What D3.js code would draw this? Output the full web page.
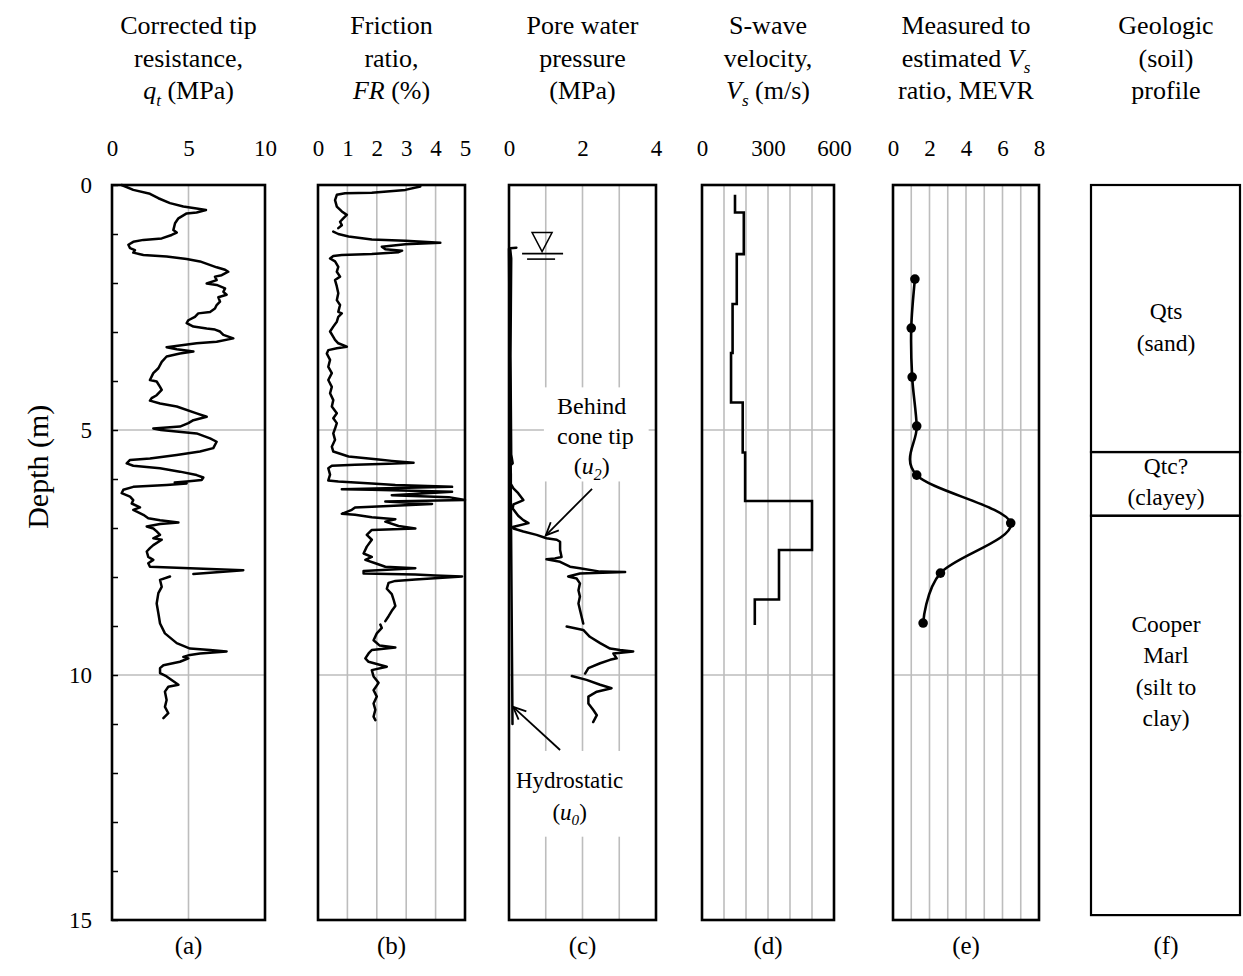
<!DOCTYPE html>
<html>
<head>
<meta charset="utf-8">
<script src="https://cdn.jsdelivr.net/npm/d3@7"></script>
<style>
  body { margin: 0; background: #fff; }
  svg { display: block; }
  text { font-family: "Liberation Serif", "Times New Roman", serif; fill: #000; }
</style>
</head>
<body>
<svg id="chart" width="1243" height="976"></svg>
<script>
// ---------------- data (depth in m, value) ----------------
// Corrected tip resistance qt (MPa)
const qtProfile = [[0,0.63],[0.10,1.39],[0.18,2.48],[0.27,3.03],[0.37,3.79],[0.44,4.66],[0.48,5.53],[0.51,6.14],[0.56,5.53],[0.58,4.88],[0.68,4.34],[0.78,4.12],[0.92,4.01],[0.97,4.23],[1.02,3.90],[1.09,3.25],[1.12,2.05],[1.16,1.39],[1.22,1.07],[1.29,1.18],[1.33,1.50],[1.38,1.39],[1.43,2.05],[1.46,3.57],[1.51,4.88],[1.56,5.75],[1.68,6.84],[1.73,7.39],[1.77,7.60],[1.84,7.17],[1.87,6.73],[1.94,6.84],[2.01,6.19],[2.04,6.84],[2.11,7.39],[2.18,7.28],[2.24,7.49],[2.29,6.95],[2.38,7.06],[2.45,6.84],[2.52,6.73],[2.59,6.41],[2.62,5.64],[2.69,5.42],[2.76,4.99],[2.82,4.88],[2.89,5.32],[2.93,6.19],[2.95,6.73],[2.99,7.06],[3.06,7.28],[3.13,7.93],[3.20,6.84],[3.23,5.53],[3.27,4.55],[3.31,3.57],[3.35,4.23],[3.40,5.32],[3.44,4.44],[3.50,3.57],[3.61,3.25],[3.74,3.03],[3.84,2.70],[3.98,2.48],[4.01,2.92],[4.12,3.14],[4.18,3.25],[4.29,2.92],[4.35,2.59],[4.40,2.48],[4.46,3.14],[4.52,4.23],[4.66,5.53],[4.73,6.19],[4.80,5.32],[4.86,4.99],[4.93,4.44],[4.97,2.70],[5.00,3.20],[5.07,5.53],[5.17,6.41],[5.24,6.84],[5.37,6.62],[5.44,5.75],[5.51,4.23],[5.58,2.48],[5.61,1.18],[5.68,0.96],[5.73,1.39],[5.78,3.14],[5.85,4.44],[5.92,5.53],[5.97,5.97],[6.02,5.86],[6.05,4.88],[6.07,4.10],[6.09,4.88],[6.12,3.57],[6.16,1.39],[6.22,0.74],[6.29,0.63],[6.36,1.18],[6.43,1.39],[6.50,1.29],[6.58,1.83],[6.63,1.39],[6.73,2.05],[6.80,2.37],[6.84,3.14],[6.89,4.34],[6.92,3.14],[6.97,2.27],[7.01,2.70],[7.07,2.92],[7.14,3.14],[7.21,2.70],[7.24,3.25],[7.35,2.70],[7.41,2.48],[7.48,2.27],[7.59,2.37],[7.65,2.70],[7.72,2.37],[7.79,2.48],[7.82,5.10],[7.86,8.58],[7.94,5.32],null,[7.99,3.79],[8.06,3.14],[8.20,3.25],[8.33,3.03],[8.54,2.92],[8.74,3.03],[8.95,3.14],[9.15,3.46],[9.35,4.23],[9.46,5.10],[9.49,6.41],[9.52,7.49],[9.56,5.75],[9.59,5.10],[9.63,4.66],[9.66,4.99],[9.73,4.44],[9.80,3.36],[9.86,3.14],[9.96,3.14],[10.03,3.57],[10.20,4.34],[10.24,3.68],[10.34,3.46],[10.51,3.57],[10.65,3.46],[10.78,3.68],[10.88,3.36]];

// Friction ratio FR (%)
const frProfile = [[0.03,3.48],[0.10,2.97],[0.16,1.83],[0.17,0.92],[0.20,0.64],[0.31,0.58],[0.44,0.64],[0.54,0.81],[0.61,0.98],[0.68,0.86],[0.75,0.75],[0.82,0.81],[0.88,0.69],null,[0.95,0.52],[1.00,0.69],[1.05,1.04],[1.11,1.83],[1.14,2.97],[1.18,4.16],[1.21,2.97],[1.26,2.17],[1.31,2.29],[1.34,2.86],[1.37,2.74],[1.41,1.83],[1.43,0.81],[1.45,0.52],[1.50,0.41],[1.56,0.58],[1.67,0.69],[1.77,0.64],[1.87,0.75],[1.94,0.58],[2.07,0.64],[2.21,0.69],[2.35,0.64],[2.45,0.75],[2.59,0.69],[2.62,0.81],[2.69,0.69],[2.79,0.64],[2.89,0.52],[2.99,0.41],[3.10,0.52],[3.16,0.58],[3.23,0.69],[3.30,0.98],[3.33,0.64],[3.37,0.35],[3.44,0.30],[3.57,0.41],[3.71,0.35],[3.84,0.47],[3.98,0.35],[4.12,0.47],[4.25,0.41],[4.39,0.52],[4.52,0.47],[4.66,0.64],[4.76,0.52],[4.86,0.64],[4.97,0.58],[5.07,0.52],[5.20,0.58],[5.34,0.47],[5.44,0.52],[5.54,1.04],[5.60,2.06],[5.63,2.51],[5.67,3.25],[5.69,2.40],[5.71,1.26],[5.73,0.47],[5.78,0.35],[5.91,0.41],[6.03,0.35],[6.05,0.69],[6.09,1.83],[6.12,2.63],[6.16,4.56],[6.21,0.81],[6.22,1.83],[6.26,4.56],[6.33,2.51],[6.37,4.45],[6.43,5.00],[6.46,2.29],[6.51,3.88],[6.55,2.40],[6.58,1.26],[6.63,1.15],[6.71,0.81],[6.73,1.26],[6.78,1.83],[6.82,2.63],[6.87,2.29],[6.96,2.74],[7.01,3.31],[7.04,1.83],[7.14,1.66],[7.24,1.83],[7.38,1.66],[7.52,1.55],[7.59,1.83],[7.65,1.61],[7.72,1.95],[7.79,2.29],[7.82,3.31],[7.88,1.55],[7.93,1.55],[7.95,3.31],[7.97,3.99],[7.99,4.90],[8.05,3.31],[8.08,2.63],[8.12,2.40],[8.24,2.34],[8.35,2.51],[8.46,2.57],[8.59,2.63],[8.69,2.51],[8.80,2.40],[8.90,2.29],null,[8.97,2.12],[9.04,2.17],[9.15,2.00],[9.29,1.89],[9.40,2.10],[9.44,2.63],[9.49,1.83],[9.56,1.72],[9.66,1.61],[9.73,1.72],[9.83,2.34],[9.90,1.83],[10.03,1.89],[10.16,2.06],[10.31,1.89],[10.44,2.00],[10.58,1.89],[10.71,1.95],[10.85,1.89],[10.92,1.95]];

// Pore water pressure behind cone tip u2 (MPa)
const u2Profile = [[1.28,0.20],[1.29,0.03],[1.50,0.06],[2.50,0.05],[3.50,0.04],[4.50,0.05],[5.50,0.06],[5.68,0.10],[5.72,0.04],[5.90,0.05],[6.10,0.05],[6.19,0.12],[6.29,0.25],[6.43,0.39],[6.46,0.30],[6.52,0.12],[6.60,0.10],[6.75,0.25],[6.84,0.39],[6.90,0.53],[6.98,0.10],[7.01,0.12],[7.07,0.39],[7.14,0.75],[7.21,1.02],[7.24,1.30],[7.28,1.39],[7.45,1.39],[7.59,1.43],[7.62,1.25],[7.64,1.02],[7.69,1.39],[7.79,1.66],[7.82,1.93],[7.89,2.48],[7.90,3.16],[7.93,1.93],[7.99,1.61],[8.03,1.84],[8.13,1.93],[8.27,1.89],[8.40,1.93],[8.54,1.89],[8.67,1.93],[8.95,2.02],null,[9.01,1.57],[9.08,2.02],[9.22,2.20],[9.35,2.48],[9.46,2.75],[9.49,3.02],[9.52,3.38],[9.56,2.84],[9.66,2.93],[9.69,2.75],[9.76,2.48],[9.86,2.16],[9.97,2.07],null,[10.02,1.71],[10.10,2.11],[10.20,2.48],[10.27,2.79],[10.34,2.39],[10.44,2.16],[10.58,2.16],[10.71,2.29],[10.82,2.39],[10.96,2.29]];

// Hydrostatic pore pressure u0 (MPa)
const u0Profile = [[1.3,0],[11.0,0.095]];
const waterTableDepth = 1.4;

// Shear-wave velocity layers: top depth, bottom depth, Vs (m/s)
const vsTop    = [0.20, 0.56, 1.41, 2.43, 3.43, 4.44, 5.46, 6.45, 7.45, 8.46];
const vsBottom = [0.56, 1.41, 2.43, 3.43, 4.44, 5.46, 6.45, 7.45, 8.46, 8.98];
const vsValue  = [150, 190, 158, 139, 132, 185, 196, 500, 350, 240];

// Measured to estimated Vs ratio
const mevrDepth = [1.92, 2.92, 3.92, 4.92, 5.92, 6.90, 7.92, 8.94];
const mevrValue = [1.20, 1.00, 1.05, 1.30, 1.30, 6.45, 2.60, 1.65];

// Geologic profile boundaries and unit labels
const unitTop    = [0, 5.45, 6.75];
const unitBottom = [5.45, 6.75, 14.9];
const unitLabelDepth = [2.9, 6.05, 9.92];
const unitLabels = [["Qts", "(sand)"], ["Qtc?", "(clayey)"], ["Cooper", "Marl", "(silt to", "clay)"]];

// Axis ticks
const depthTicks = [0, 5, 10, 15];
const qtTicks = [0, 5, 10];
const frTicks = [0, 1, 2, 3, 4, 5];
const uTicks = [0, 2, 4];
const vsTicks = [0, 300, 600];
const mevrTicks = [0, 2, 4, 6, 8];
const panelLetters = ["(a)", "(b)", "(c)", "(d)", "(e)", "(f)"];

// ---------------- layout ----------------
const svg = d3.select("#chart");
const plotTop = 185, plotBottom = 920;
const y = d3.scaleLinear().domain([0, 15]).range([plotTop, plotBottom]);
const serif = '"Liberation Serif", "Times New Roman", serif';

const panels = [
  { x0: 112, x1: 265, domain: [0, 10], ticks: qtTicks, grid: [5],
    title: [[{t: "Corrected tip"}], [{t: "resistance,"}], [{t: "q", i: 1}, {t: "t", i: 1, sub: 1}, {t: " (MPa)"}]] },
  { x0: 318, x1: 465, domain: [0, 5], ticks: frTicks, grid: [1, 2, 3, 4],
    title: [[{t: "Friction"}], [{t: "ratio,"}], [{t: "FR", i: 1}, {t: " (%)"}]] },
  { x0: 509, x1: 656, domain: [0, 4], ticks: uTicks, grid: [1, 2, 3],
    title: [[{t: "Pore water"}], [{t: "pressure"}], [{t: "(MPa)"}]] },
  { x0: 702, x1: 834, domain: [0, 600], ticks: vsTicks, grid: [100, 200, 300, 400, 500],
    title: [[{t: "S-wave"}], [{t: "velocity,"}], [{t: "V", i: 1}, {t: "s", i: 1, sub: 1}, {t: " (m/s)"}]] },
  { x0: 893, x1: 1039, domain: [0, 8], ticks: mevrTicks, grid: [1, 2, 3, 4, 5, 6, 7],
    title: [[{t: "Measured to"}], [{t: "estimated "}, {t: "V", i: 1}, {t: "s", i: 1, sub: 1}], [{t: "ratio, MEVR"}]] },
  { x0: 1091, x1: 1241, domain: null,
    title: [[{t: "Geologic"}], [{t: "(soil)"}], [{t: "profile"}]] }
];
panels.forEach(p => { if (p.domain) p.x = d3.scaleLinear().domain(p.domain).range([p.x0, p.x1]); });

// Writes one line of mixed italic / subscript text
function richLine(parent, x, yBase, segs, size) {
  const t = parent.append("text").attr("x", x).attr("y", yBase)
    .attr("text-anchor", "middle").style("font-size", size + "px");
  let shift = 0;
  segs.forEach(s => {
    const ts = t.append("tspan").text(s.t);
    if (s.i) ts.style("font-style", "italic");
    const target = s.sub ? size * 0.25 : 0;
    if (target !== shift) { ts.attr("dy", target - shift); shift = target; }
    if (s.sub) ts.style("font-size", (size * 0.66) + "px");
  });
  return t;
}

// Titles and panel letters
panels.forEach((p, k) => {
  const cx = (p.x0 + p.x1) / 2;
  p.title.forEach((line, j) => richLine(svg, cx, 34 + j * 32.5, line, 26));
  svg.append("text").attr("x", cx).attr("y", 954).attr("text-anchor", "middle")
    .style("font-size", "25px").text(panelLetters[k]);
});

const gridColor = "#bdbdbd";

// Gridlines and top axes for the data panels
panels.filter(p => p.domain).forEach(p => {
  const g = svg.append("g");
  g.selectAll("line.vg").data(p.grid).join("line")
    .attr("x1", d => p.x(d)).attr("x2", d => p.x(d))
    .attr("y1", plotTop).attr("y2", plotBottom)
    .attr("stroke", gridColor).attr("stroke-width", 1.6);
  g.selectAll("line.hg").data([5, 10]).join("line")
    .attr("x1", p.x0).attr("x2", p.x1)
    .attr("y1", d => y(d)).attr("y2", d => y(d))
    .attr("stroke", gridColor).attr("stroke-width", 1.6);
  p.g = g;

  const ax = svg.append("g").attr("transform", `translate(0,${plotTop})`)
    .call(d3.axisTop(p.x).tickValues(p.ticks).tickSize(0).tickPadding(29).tickFormat(d3.format("d")));
  ax.select(".domain").remove();
  ax.selectAll("text").style("font-size", "23px").style("font-family", serif);
});

// Depth axis with 1 m inner ticks
const depthAxis = svg.append("g").attr("transform", `translate(${panels[0].x0},0)`)
  .call(d3.axisLeft(y).tickValues(d3.range(0, 16)).tickSizeInner(-6).tickSizeOuter(0)
    .tickPadding(20).tickFormat(d => depthTicks.includes(d) ? d : ""));
depthAxis.select(".domain").remove();
depthAxis.selectAll("line").attr("stroke", "#000").attr("stroke-width", 1.5);
depthAxis.selectAll("text").style("font-size", "23px").style("font-family", serif);

svg.append("text").attr("transform", `translate(48,${y(5.75)}) rotate(-90)`)
  .attr("text-anchor", "middle").style("font-size", "30px").text("Depth (m)");

// Profile line helper: rows are [depth, value] or null for gaps
function profileLine(p) {
  return d3.line().defined(d => d !== null).x(d => p.x(d[1])).y(d => y(d[0]));
}
const traceStyle = sel => sel.attr("fill", "none").attr("stroke", "#000")
  .attr("stroke-width", 2.5).attr("stroke-linejoin", "round").attr("stroke-linecap", "round");

// (a) tip resistance
panels[0].g.append("path").datum(qtProfile).attr("d", profileLine(panels[0])).call(traceStyle);

// (b) friction ratio
panels[1].g.append("path").datum(frProfile).attr("d", profileLine(panels[1])).call(traceStyle);

// (c) pore pressure with annotations
const pc = panels[2];
const maskBoxes = [
  { x0: 0.95, x1: 3.8, d0: 4.13, d1: 6.05 },
  { x0: 0.15, x1: 3.85, d0: 11.55, d1: 13.3 }
];
pc.g.selectAll("rect.mask").data(maskBoxes).join("rect")
  .attr("x", d => pc.x(d.x0)).attr("width", d => pc.x(d.x1) - pc.x(d.x0))
  .attr("y", d => y(d.d0)).attr("height", d => y(d.d1) - y(d.d0)).attr("fill", "#fff");

pc.g.append("path").datum(u0Profile).attr("d", profileLine(pc)).call(traceStyle);
pc.g.append("path").datum(u2Profile).attr("d", profileLine(pc)).call(traceStyle);

// water table symbol
{
  const cx = pc.x(0.9), wy = y(waterTableDepth);
  pc.g.append("path")
    .attr("d", `M${cx - 10},${wy - 21}L${cx + 10},${wy - 21}L${cx},${wy - 2}Z`)
    .attr("fill", "none").attr("stroke", "#000").attr("stroke-width", 1.5);
  pc.g.append("line").attr("x1", cx - 20).attr("x2", cx + 21).attr("y1", wy).attr("y2", wy)
    .attr("stroke", "#000").attr("stroke-width", 1.6);
  pc.g.append("line").attr("x1", cx - 15).attr("x2", cx + 13).attr("y1", wy + 5.5).attr("y2", wy + 5.5)
    .attr("stroke", "#000").attr("stroke-width", 1.6);
}

function arrow(g, x1, y1, x2, y2) {
  g.append("line").attr("x1", x1).attr("y1", y1).attr("x2", x2).attr("y2", y2)
    .attr("stroke", "#000").attr("stroke-width", 1.8);
  const a = Math.atan2(y2 - y1, x2 - x1), L = 14, w = 0.42;
  const pts = [a + Math.PI - w, a + Math.PI + w].map(b => [x2 + L * Math.cos(b), y2 + L * Math.sin(b)]);
  g.append("path").attr("d", `M${pts[0]}L${x2},${y2}L${pts[1]}`)
    .attr("fill", "none").attr("stroke", "#000").attr("stroke-width", 1.8);
}
arrow(pc.g, pc.x(2.26), y(6.2), pc.x(1.0), y(7.15));
arrow(pc.g, pc.x(1.39), y(11.53), pc.x(0.11), y(10.65));

richLine(pc.g, pc.x(2.25), y(4.67), [{t: "Behind"}], 24);
richLine(pc.g, pc.x(2.35), y(5.29), [{t: "cone tip"}], 24);
richLine(pc.g, pc.x(2.25), y(5.9), [{t: "("}, {t: "u", i: 1}, {t: "2", i: 1, sub: 1}, {t: ")"}], 24);
richLine(pc.g, pc.x(1.65), y(12.3), [{t: "Hydrostatic"}], 23);
richLine(pc.g, pc.x(1.65), y(12.95), [{t: "("}, {t: "u", i: 1}, {t: "0", i: 1, sub: 1}, {t: ")"}], 23);

// (d) shear-wave velocity step profile
const pd = panels[3];
const vsPts = [];
vsValue.forEach((v, i) => { vsPts.push([vsTop[i], v]); vsPts.push([vsBottom[i], v]); });
pd.g.append("path").datum(vsPts).attr("d", profileLine(pd)).call(traceStyle)
  .attr("stroke-width", 2.6).attr("stroke-linecap", "butt").attr("stroke-linejoin", "miter");

// (e) MEVR, smoothed line with markers
const pe = panels[4];
const mevr = mevrDepth.map((d, i) => [d, mevrValue[i]]);
pe.g.append("path").datum(mevr)
  .attr("d", d3.line().x(d => pe.x(d[1])).y(d => y(d[0])).curve(d3.curveCardinal.tension(0)))
  .call(traceStyle).attr("stroke-width", 2.6);
pe.g.selectAll("circle").data(mevr).join("circle")
  .attr("cx", d => pe.x(d[1])).attr("cy", d => y(d[0])).attr("r", 4.8).attr("fill", "#000");

// Frames for panels (a)-(e)
panels.filter(p => p.domain).forEach(p => {
  svg.append("rect").attr("x", p.x0).attr("y", plotTop).attr("width", p.x1 - p.x0).attr("height", plotBottom - plotTop)
    .attr("fill", "none").attr("stroke", "#000").attr("stroke-width", 2.6);
});

// (f) geologic profile
const pf = panels[5];
const fcx = (pf.x0 + pf.x1) / 2;
const units = unitTop.map((t, i) => ({ top: t, bottom: unitBottom[i], mid: unitLabelDepth[i], lines: unitLabels[i] }));
const fg = svg.append("g");
fg.selectAll("rect").data(units).join("rect")
  .attr("x", pf.x0).attr("width", pf.x1 - pf.x0 - 1)
  .attr("y", d => y(d.top)).attr("height", d => y(d.bottom) - y(d.top))
  .attr("fill", "none").attr("stroke", "#000").attr("stroke-width", 2.2);
units.forEach(u => {
  const mid = y(u.mid);
  const n = u.lines.length, lh = 31.5;
  u.lines.forEach((s, j) => {
    fg.append("text").attr("x", fcx).attr("y", mid + (j - (n - 1) / 2) * lh + 8)
      .attr("text-anchor", "middle").style("font-size", "23.5px").text(s);
  });
});
</script>
</body>
</html>
